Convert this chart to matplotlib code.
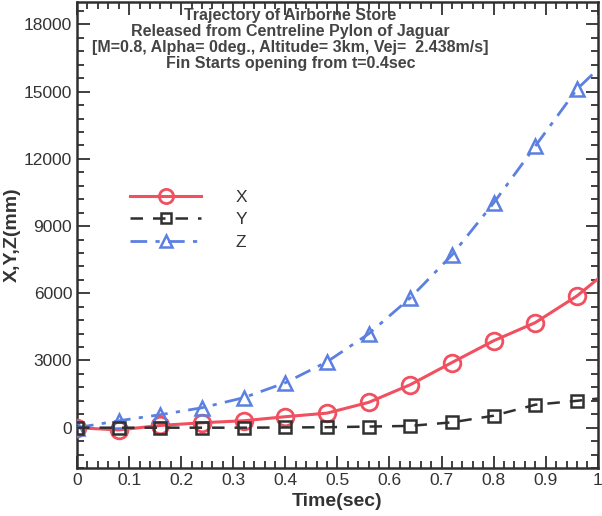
import matplotlib
matplotlib.use("Agg")
import matplotlib.pyplot as plt
from matplotlib.ticker import MultipleLocator

plt.rcParams['font.family'] = ['Liberation Sans', 'DejaVu Sans']

t = [0.0, 0.08, 0.16, 0.24, 0.32, 0.40, 0.48, 0.56, 0.64, 0.72, 0.80, 0.88, 0.96, 1.0]
x_mm = [0, -100, 100, 220, 310, 490, 650, 1130, 1920, 2910, 3880, 4690, 5880, 6640]
y_mm = [0, 0, 0, 0, 0, 10, 20, 50, 80, 240, 535, 1025, 1200, 1300]
z_mm = [0, 310, 580, 890, 1340, 2005, 2940, 4190, 5795, 7710, 10030, 12570, 15110, 16000]

title = ("Trajectory of Airborne Store\n"
         "Released from Centreline Pylon of Jaguar\n"
         "[M=0.8, Alpha= 0deg., Altitude= 3km, Vej=  2.438m/s]\n"
         "Fin Starts opening from t=0.4sec")

fig = plt.figure(figsize=(6.02, 5.16), dpi=100)
ax = fig.add_axes([0.128, 0.093, 0.865, 0.903])

red = '#f0505f'
blk = '#303030'
blu = '#5b80e0'
mk = list(range(len(t) - 1))

ax.plot(t, x_mm, color=red, lw=2.2, marker='o', markersize=12, mfc='none',
        mec=red, mew=2, markevery=mk, label='X', zorder=3)
ax.plot(t, y_mm, color=blk, lw=1.8, ls=(0, (5, 4)), marker='s', markersize=8.5,
        mfc='none', mec=blk, mew=1.8, markevery=mk, label='Y', zorder=4)
ax.plot(t, z_mm, color=blu, lw=2.0, ls=(0, (6, 3, 1.5, 3)), marker='^', markersize=10,
        mfc='none', mec=blu, mew=1.8, markevery=mk, label='Z', zorder=3)

ax.set_xlim(0, 1)
ax.set_ylim(-1800, 19000)
ax.xaxis.set_major_locator(MultipleLocator(0.1))
ax.xaxis.set_minor_locator(MultipleLocator(0.02))
ax.yaxis.set_major_locator(MultipleLocator(3000))
ax.yaxis.set_minor_locator(MultipleLocator(600))
ax.set_xticks([0, 0.1, 0.2, 0.3, 0.4, 0.5, 0.6, 0.7, 0.8, 0.9, 1.0])
ax.set_xticklabels(['0', '0.1', '0.2', '0.3', '0.4', '0.5', '0.6', '0.7', '0.8', '0.9', '1'])
ax.tick_params(which='both', direction='in', top=True, right=True, colors=blk,
               labelcolor='#333333', labelsize=12.5, width=1.3)
ax.tick_params(which='major', length=9)
ax.tick_params(which='minor', length=5)
for s in ax.spines.values():
    s.set_linewidth(1.8)
    s.set_color(blk)

ax.set_xlabel('Time(sec)', fontsize=14, fontweight='bold', color='#333333', labelpad=4)
ax.set_ylabel('X,Y,Z(mm)', fontsize=14, fontweight='bold', color='#333333', labelpad=2)

ax.text(0.41, 0.988, title, transform=ax.transAxes, ha='center', va='top',
        fontsize=11.5, fontweight='bold', color='#444444', linespacing=1.1)

leg = ax.legend(loc='upper left', bbox_to_anchor=(0.085, 0.616), frameon=False,
                fontsize=12.5, handlelength=4.1, handletextpad=2.0, labelspacing=0.42,
                borderpad=0, markerscale=0.85)
for txt in leg.get_texts():
    txt.set_color('#333333')

fig.savefig('out.png', dpi=100)
